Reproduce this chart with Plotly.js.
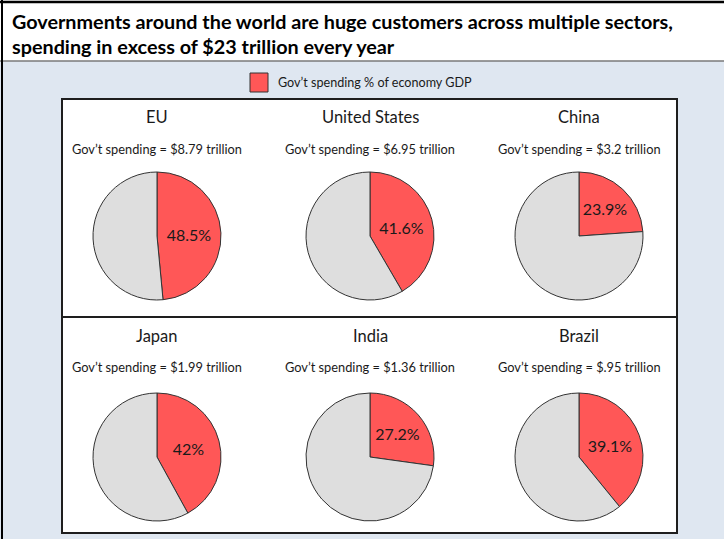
<!DOCTYPE html>
<html>
<head>
<meta charset="utf-8">
<script src="https://cdn.plot.ly/plotly-3.0.1.min.js"></script>
<style>html,body{margin:0;padding:0;background:#dfe7f1;}#chart{width:724px;height:539px;}</style>
</head>
<body>
<div id="chart"></div>
<script>
// ---- Data ----
const countries = ['EU', 'United States', 'China', 'Japan', 'India', 'Brazil'];
const govSpendingTrillion = [8.79, 6.95, 3.2, 1.99, 1.36, 0.95];
const gdpSharePct = [48.5, 41.6, 23.9, 42, 27.2, 39.1];
const sliceLabels = ["Gov\u2019t spending % of economy GDP", 'Rest of economy'];
const titleLines = ['Governments around the world are huge customers across multiple sectors,', 'spending in excess of $23 trillion every year'];

// ---- Layout helpers ----
const W = 724, H = 539;
const px = x => x / W;
const py = y => 1 - y / H;
const FONT = 'Lato, "Open Sans", sans-serif';
const RED = '#ff5757', GREY = '#dedede';

const centersX = [157, 370, 579];
const centersY = [236, 457];
const R = 64;
const titleY = [116.5, 336.5];
const subY = [149, 367];

function fmtMoney(v) {
  let s = String(v);
  if (v < 1) s = s.replace(/^0/, '');
  return '$' + s;
}

const traces = countries.map((c, i) => {
  const cx = centersX[i % 3], cy = centersY[Math.floor(i / 3)];
  return {
    type: 'pie',
    labels: sliceLabels,
    values: [gdpSharePct[i], 100 - gdpSharePct[i]],
    text: [gdpSharePct[i] + '%', ''],
    textinfo: 'text',
    textposition: 'inside',
    insidetextorientation: 'horizontal',
    textfont: {family: FONT, size: 16, color: '#1a1a1a'},
    marker: {colors: [RED, GREY], line: {color: '#333', width: 1}},
    direction: 'clockwise',
    rotation: 0,
    sort: false,
    showlegend: false,
    hoverinfo: 'none',
    domain: {x: [px(cx - R), px(cx + R)], y: [py(cy + R), py(cy - R)]}
  };
});

const annotations = [];
countries.forEach((c, i) => {
  const cx = centersX[i % 3], row = Math.floor(i / 3);
  annotations.push({xref: 'paper', yref: 'paper', x: px(cx), y: py(titleY[row]), xanchor: 'center', yanchor: 'middle',
    text: c, showarrow: false, font: {family: FONT, size: 16.5, color: '#1a1a1a'}});
  annotations.push({xref: 'paper', yref: 'paper', x: px(cx), y: py(subY[row]), xanchor: 'center', yanchor: 'middle',
    text: "Gov\u2019t spending = " + fmtMoney(govSpendingTrillion[i]) + ' trillion', showarrow: false,
    font: {family: FONT, size: 12.8, color: '#1a1a1a'}});
});
// chart title (two lines)
annotations.push({xref: 'paper', yref: 'paper', x: px(10), y: py(20.5), xanchor: 'left', yanchor: 'middle', align: 'left',
  text: '<b>' + titleLines[0] + '</b>', showarrow: false, font: {family: FONT, size: 19.8, color: '#000'}});
annotations.push({xref: 'paper', yref: 'paper', x: px(10), y: py(46), xanchor: 'left', yanchor: 'middle', align: 'left',
  text: '<b>' + titleLines[1] + '</b>', showarrow: false, font: {family: FONT, size: 19.8, color: '#000'}});
// legend text
annotations.push({xref: 'paper', yref: 'paper', x: px(276), y: py(82), xanchor: 'left', yanchor: 'middle',
  text: sliceLabels[0], showarrow: false, font: {family: FONT, size: 12.6, color: '#1a1a1a'}});

const shapes = [
  // title box
  {type: 'rect', xref: 'paper', yref: 'paper', x0: 0, x1: 1, y0: py(61), y1: 1, fillcolor: '#ffffff', line: {width: 0}, layer: 'below'},
  {type: 'line', xref: 'paper', yref: 'paper', x0: 0, x1: 1, y0: py(61), y1: py(61), line: {color: '#7a7a7a', width: 1.5}},
  {type: 'line', xref: 'paper', yref: 'paper', x0: 0, x1: 1, y0: py(2), y1: py(2), line: {color: '#000', width: 2.5}},
  {type: 'line', xref: 'paper', yref: 'paper', x0: px(2), x1: px(2), y0: 0, y1: 1, line: {color: '#000', width: 2}},
  // panel
  {type: 'rect', xref: 'paper', yref: 'paper', x0: px(62), x1: px(677), y0: py(533), y1: py(99), fillcolor: '#ffffff', line: {color: '#1e1e1e', width: 2}, layer: 'below'},
  {type: 'line', xref: 'paper', yref: 'paper', x0: px(62), x1: px(677), y0: py(317), y1: py(317), line: {color: '#1e1e1e', width: 2}},
  // legend key
  {type: 'rect', xref: 'paper', yref: 'paper', x0: px(250), x1: px(268), y0: py(92), y1: py(73), fillcolor: RED, line: {color: '#333', width: 1}}
];

const layout = {
  width: W, height: H,
  margin: {l: 0, r: 0, t: 0, b: 0},
  paper_bgcolor: '#dfe7f1',
  plot_bgcolor: 'rgba(0,0,0,0)',
  showlegend: false,
  shapes: shapes,
  annotations: annotations
};

Plotly.newPlot('chart', traces, layout, {displayModeBar: false, staticPlot: true});
</script>
</body>
</html>
